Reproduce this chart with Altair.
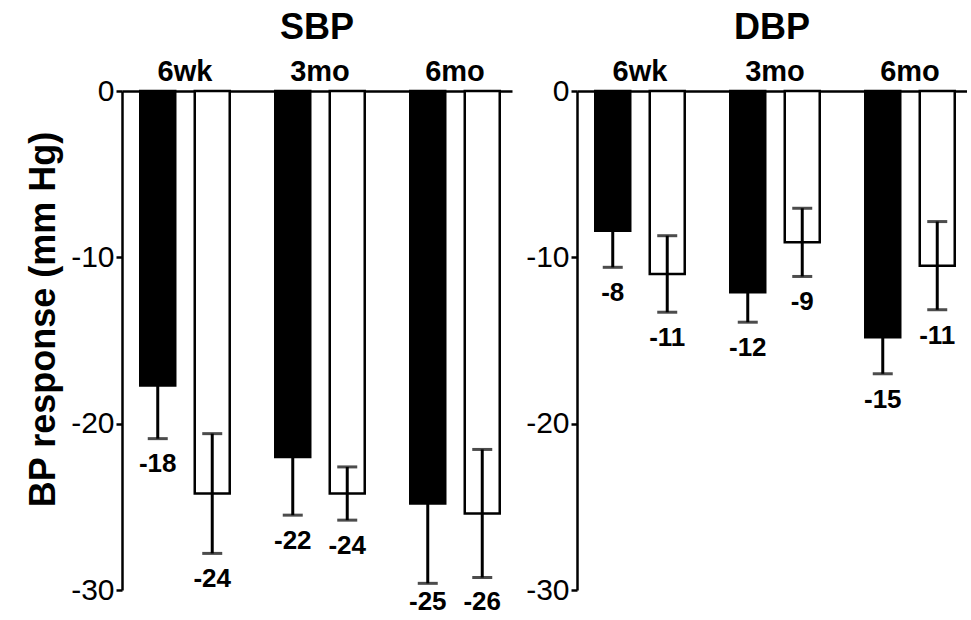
import altair as alt
import pandas as pd

times = ["6wk", "3mo", "6mo"]
groups = ["Group A", "Group B"]  # black bars, white bars

# SBP panel
sbp_a_mean = [-17.7, -22.0, -24.8]
sbp_a_err = [3.2, 3.5, 4.8]
sbp_a_lbl = ["-18", "-22", "-25"]
sbp_b_mean = [-24.2, -24.2, -25.4]
sbp_b_err = [3.6, 1.6, 3.85]
sbp_b_lbl = ["-24", "-24", "-26"]

# DBP panel
dbp_a_mean = [-8.4, -12.1, -14.8]
dbp_a_err = [2.2, 1.8, 2.2]
dbp_a_lbl = ["-8", "-12", "-15"]
dbp_b_mean = [-11.0, -9.1, -10.5]
dbp_b_err = [2.3, 2.05, 2.65]
dbp_b_lbl = ["-11", "-9", "-11"]

y_ticks = [0, -10, -20, -30]
FONT = "Liberation Sans"


def make_df(a_mean, a_err, a_lbl, b_mean, b_err, b_lbl):
    rows = []
    for i, t in enumerate(times):
        rows.append(dict(time=t, group=groups[0], mean=a_mean[i], err=a_err[i], label=a_lbl[i]))
        rows.append(dict(time=t, group=groups[1], mean=b_mean[i], err=b_err[i], label=b_lbl[i]))
    return pd.DataFrame(rows)


def yenc(field, title):
    return alt.Y(
        field,
        title=title,
        scale=alt.Scale(domain=[-30, 0], nice=False, zero=False),
        axis=alt.Axis(
            values=y_ticks,
            grid=False,
            labelExpr="'' + datum.value",
            domainColor="black",
            domainWidth=2.5,
            tickColor="black",
            tickWidth=2.5,
            tickSize=6,
            labelPadding=2,
            labelFont=FONT,
            labelFontSize=30,
            labelColor="black",
            titleFont=FONT,
            titleFontSize=36,
            titleFontWeight="bold",
            titleColor="black",
            titlePadding=8,
            titleY=228,
        ),
    )


def panel(df, title, ytitle, title_offset):
    base = alt.Chart(df).transform_calculate(
        lo="datum.mean - datum.err",
        hi="datum.mean + datum.err",
        ly="max(datum.mean - datum.err - 1.55, -30.75)",
    ).encode(
        x=alt.X(
            "time:N",
            sort=times,
            title=None,
            scale=alt.Scale(paddingInner=0.2, paddingOuter=0.0444, align=0.75),
            axis=alt.Axis(
                orient="top",
                labelAngle=0,
                ticks=False,
                labelFont=FONT,
                labelFontSize=29,
                labelFontWeight="bold",
                labelColor="black",
                labelPadding=5,
                domainColor="black",
                domainWidth=2.5,
            ),
        ),
        xOffset=alt.XOffset(
            "group:N", sort=groups,
            scale=alt.Scale(paddingInner=0.358, paddingOuter=0.17),
        ),
    )
    bars = base.mark_bar(stroke="black", strokeWidth=2.5).encode(
        y=yenc("mean:Q", ytitle),
        fill=alt.Fill("group:N", sort=groups,
                      scale=alt.Scale(domain=groups, range=["black", "white"]),
                      legend=None),
    )
    rule = base.mark_rule(color="black", strokeWidth=3).encode(
        y=yenc("lo:Q", ytitle), y2="hi:Q"
    )
    cap_lo = base.mark_tick(color="black", thickness=3, size=20, orient="horizontal").encode(
        y=yenc("lo:Q", ytitle)
    )
    cap_hi = base.mark_tick(color="black", thickness=3, size=20, orient="horizontal").encode(
        y=yenc("hi:Q", ytitle)
    )
    text = base.mark_text(font=FONT, fontSize=26, fontWeight="bold", color="black",
                          baseline="middle").encode(
        y=yenc("ly:Q", ytitle), text="label:N"
    )
    return alt.layer(bars, rule, cap_lo, cap_hi, text).properties(
        width=390,
        height=499,
        title=alt.TitleParams(title, font=FONT, fontSize=36, fontWeight="bold",
                              color="black", offset=title_offset, anchor="middle"),
    )


sbp = panel(make_df(sbp_a_mean, sbp_a_err, sbp_a_lbl, sbp_b_mean, sbp_b_err, sbp_b_lbl),
            "SBP", "BP response (mm Hg)", 10)
dbp = panel(make_df(dbp_a_mean, dbp_a_err, dbp_a_lbl, dbp_b_mean, dbp_b_err, dbp_b_lbl),
            "DBP", None, 10)

chart = alt.hconcat(sbp, dbp, spacing=13).properties(
    padding={"left": 25, "top": 10, "right": 0, "bottom": 0},
    background="white",
).configure_view(stroke=None)

chart.save("out.html", embed_options={"renderer": "svg", "actions": False})
